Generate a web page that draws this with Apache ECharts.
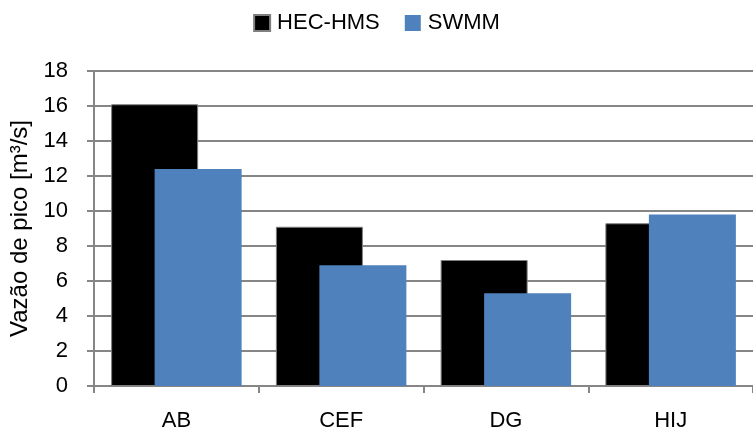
<!DOCTYPE html>
<html><head><meta charset="utf-8">
<script src="https://cdn.jsdelivr.net/npm/echarts@6/dist/echarts.min.js"></script>
<style>html,body{margin:0;padding:0;background:#fff}#c{width:753px;height:434px}</style>
</head><body><div id="c"></div>
<script>
const categories = ['AB', 'CEF', 'DG', 'HIJ'];
const hecHms = [16.1, 9.1, 7.2, 9.3];
const swmm = [12.4, 6.9, 5.3, 9.8];
const seriesNames = ['HEC-HMS', 'SWMM'];
const yTicks = { min: 0, max: 18, interval: 2 };
const yName = 'Vazão de pico [m³/s]';

const FONT = 'Liberation Sans';
const chart = echarts.init(document.getElementById('c'), null, { renderer: 'canvas' });
chart.setOption({
  animation: false,
  textStyle: { fontFamily: FONT },
  legend: {
    top: 7, left: 'center', itemWidth: 16, itemHeight: 16, itemGap: 25,
    icon: 'rect',
    textStyle: { fontSize: 22, color: '#000', fontFamily: FONT, padding: [0, 0, 0, 2] },
    data: seriesNames
  },
  grid: { left: 94, top: 71, width: 661, height: 315 },
  xAxis: {
    type: 'category', data: categories,
    axisLine: { lineStyle: { color: '#868686', width: 2 } },
    axisTick: { show: true, length: 7, lineStyle: { color: '#868686', width: 2 } },
    axisLabel: { fontSize: 22, color: '#000', margin: 24, fontFamily: FONT }
  },
  yAxis: {
    type: 'value', min: yTicks.min, max: yTicks.max, interval: yTicks.interval,
    name: yName, nameLocation: 'middle', nameGap: 62, nameRotate: 90,
    nameTextStyle: { fontSize: 24, color: '#000', fontFamily: FONT },
    axisLine: { show: true, lineStyle: { color: '#868686', width: 2 } },
    axisTick: { show: true, length: 7, lineStyle: { color: '#868686', width: 2 } },
    axisLabel: { fontSize: 22, color: '#000', margin: 26, fontFamily: FONT },
    splitLine: { lineStyle: { color: '#868686', width: 2 } }
  },
  series: [
    { name: seriesNames[0], type: 'bar', data: hecHms, barWidth: 87, barGap: '-50%',
      itemStyle: { color: '#000', borderColor: '#7f7f7f', borderWidth: 1 } },
    { name: seriesNames[1], type: 'bar', data: swmm, barWidth: 87, barGap: '-50%',
      itemStyle: { color: '#4F81BD' } }
  ]
});
</script></body></html>
